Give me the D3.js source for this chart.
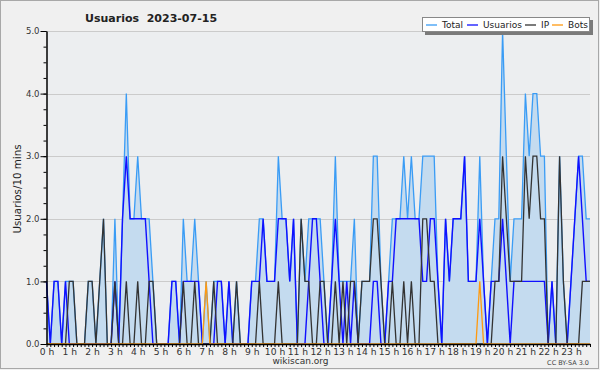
<!DOCTYPE html>
<html><head><meta charset="utf-8">
<script src="https://cdn.jsdelivr.net/npm/d3@7"></script>
<style>
html,body{margin:0;padding:0;background:#f0f0f0;}
svg{display:block;}
text{font-family:"DejaVu Sans",sans-serif;}
</style></head>
<body>
<svg id="c" width="600" height="370"></svg>
<script>
const title = "Usuarios  2023-07-15";
const yTitle = "Usuarios/10 mins";
const hourLabels = ["0 h","1 h","2 h","3 h","4 h","5 h","6 h","7 h","8 h","9 h","10 h","11 h","12 h","13 h","14 h","15 h","16 h","17 h","18 h","19 h","20 h","21 h","22 h","23 h"];
const yTickLabels = ["0.0","1.0","2.0","3.0","4.0","5.0"];
const seriesNames = ["Total","Usuarios","IP","Bots"];

const total = [
1,0,1,1,0,1,1,1,0,0,
0,1,1,0,1,2,0,0,2,0,
2,4,2,2,3,2,2,2,1,0,
0,0,0,1,1,0,2,1,1,2,
1,0,1,0,1,1,1,0,1,0,
1,0,0,0,1,1,2,2,1,1,
1,3,2,2,1,2,0,2,1,2,
2,2,2,1,0,1,3,1,1,1,
1,2,0,1,1,1,3,3,1,0,
1,2,2,2,3,2,3,2,2,3,
3,3,3,1,0,2,1,2,2,2,
3,1,1,1,3,1,0,1,2,2,
5,3,1,2,2,2,4,3,4,4,
3,3,0,1,0,3,1,0,1,2,
3,3,2,2];
const usuarios = [
1,0,1,1,0,1,0,0,0,0,
0,0,0,0,0,0,0,0,1,0,
2,3,2,2,2,2,2,1,0,0,
0,0,0,1,1,0,1,1,1,1,
1,0,0,0,0,1,1,0,1,0,
0,0,0,0,1,1,1,2,1,1,
1,2,2,2,1,2,0,0,0,1,
2,2,1,0,0,1,2,1,0,1,
0,1,0,0,0,0,1,1,0,0,
1,1,2,2,2,2,2,2,2,1,
1,2,2,1,0,2,1,2,2,2,
3,1,1,1,2,1,0,1,1,1,
2,1,0,1,1,1,1,1,1,1,
1,1,0,1,0,0,0,0,1,2,
3,2,1,1];
const ip = [
0,0,0,0,0,0,1,1,0,0,
0,1,1,0,1,2,0,0,1,0,
0,1,0,0,1,0,0,1,1,0,
0,0,0,0,0,0,1,0,0,1,
0,0,0,0,1,0,0,0,0,0,
1,0,0,0,0,0,1,0,0,0,
0,1,0,0,0,0,0,2,1,1,
0,0,1,1,0,0,1,0,1,0,
1,1,0,1,1,1,2,2,1,0,
0,1,0,0,1,0,1,0,0,2,
2,1,1,0,0,0,0,0,0,0,
0,0,0,0,0,0,0,0,1,1,
3,2,1,1,1,1,3,2,3,3,
2,2,0,0,0,3,1,0,0,0,
0,1,1,1];
const bots = [
0,0,0,0,0,0,0,0,0,0,
0,0,0,0,0,0,0,0,0,0,
0,0,0,0,0,0,0,0,0,0,
0,0,0,0,0,0,0,0,0,0,
0,0,1,0,0,0,0,0,0,0,
0,0,0,0,0,0,0,0,0,0,
0,0,0,0,0,0,0,0,0,0,
0,0,0,0,0,0,0,0,0,0,
0,0,0,0,0,0,0,0,0,0,
0,0,0,0,0,0,0,0,0,0,
0,0,0,0,0,0,0,0,0,0,
0,0,0,0,1,0,0,0,0,0,
0,0,0,0,0,0,0,0,0,0,
0,0,0,0,0,0,0,0,0,0,
0,0,0,0];

const colors = {Total:"#3a9cf5", Usuarios:"#1010ff", IP:"#333333", Bots:"#ff9a10"};
const fillTotal = "#c4dbef";

const svg = d3.select("#c");
const L = 46.5, R = 590, T = 31, B = 344;
const n = total.length;
const x = d3.scaleLinear().domain([0, n-1]).range([L, R]);
const y = d3.scaleLinear().domain([0, 5]).range([B, T]);

// outer border
svg.append("rect").attr("x",0.5).attr("y",0.5).attr("width",598).attr("height",368)
  .attr("fill","#f0f0f0").attr("stroke","#a8a8a8");

// plot background
svg.append("rect").attr("x",L).attr("y",T).attr("width",R-L).attr("height",B-T).attr("fill","#eceef0");

// grid
svg.append("g").selectAll("line").data([1,2,3,4,5]).join("line")
  .attr("x1",L).attr("x2",R)
  .attr("y1",d=>Math.round(y(d))+0.5).attr("y2",d=>Math.round(y(d))+0.5)
  .attr("stroke","#cbcbcb").attr("stroke-width",1);

// total area
const idx = d3.range(n);
svg.append("path").datum(idx)
  .attr("d", d3.area().x(i=>x(i)).y0(y(0)).y1(i=>y(total[i])))
  .attr("fill", fillTotal);

function drawLine(arr, color, w){
  svg.append("path").datum(idx)
    .attr("d", d3.line().x(i=>x(i)).y(i=>y(arr[i])))
    .attr("fill","none").attr("stroke",color).attr("stroke-width",w)
    .attr("stroke-linejoin","miter");
}
drawLine(total, colors.Total, 1.3);
drawLine(usuarios, colors.Usuarios, 1.4);
drawLine(ip, colors.IP, 1.3);
drawLine(bots, colors.Bots, 1.3);

// y axis minor
const yMinor = d3.axisLeft(y).tickValues(d3.range(0, 5.01, 0.25)).tickSize(3).tickFormat("").tickSizeOuter(0);
svg.append("g").attr("transform",`translate(${L},0)`).call(yMinor)
  .call(g=>g.select(".domain").remove())
  .call(g=>g.selectAll("line").attr("stroke","#000"));
// y axis major
const yMajor = d3.axisLeft(y).tickValues([0,1,2,3,4,5]).tickSize(6).tickPadding(1)
  .tickFormat((d,i)=>yTickLabels[i]).tickSizeOuter(0);
const gy = svg.append("g").attr("transform",`translate(${L},0)`).call(yMajor);
gy.select(".domain").attr("stroke","#000").attr("stroke-width",1.5);
gy.selectAll("line").attr("stroke","#000");
gy.selectAll("text").attr("font-family","Liberation Sans, sans-serif").attr("font-size",8.5).attr("fill","#333");

// x axis
const xAxis = d3.axisBottom(x).tickValues(idx).tickSize(3).tickPadding(1).tickSizeOuter(0)
  .tickFormat(i => i % 6 === 0 ? hourLabels[i/6] : "");
const gx = svg.append("g").attr("transform",`translate(0,${B})`).call(xAxis);
gx.select(".domain").attr("stroke","#000").attr("stroke-width",1.5);
gx.selectAll("line").attr("stroke","#000");
gx.selectAll("text").attr("font-family","Liberation Sans, sans-serif").attr("font-size",9.2).attr("fill","#333");

// title
svg.append("text").attr("x",85).attr("y",22).attr("font-weight","bold").attr("font-size",11)
  .attr("fill","#222").style("white-space","pre").text(title);

// y title
svg.append("text").attr("transform","translate(21,189) rotate(-90)").attr("text-anchor","middle")
  .attr("font-family","DejaVu Sans Mono, monospace").attr("font-size",10.3).attr("fill","#222").text(yTitle);

// legend
const lg = svg.append("g");
lg.append("rect").attr("x",425).attr("y",20).attr("width",168).attr("height",15).attr("fill","#7a7a7a");
lg.append("rect").attr("x",422.5).attr("y",17.5).attr("width",167).attr("height",14).attr("fill","#fff").attr("stroke","#888");
const lx = [426, 467, 525, 552];
seriesNames.forEach((s,i)=>{
  lg.append("line").attr("x1",lx[i]).attr("x2",lx[i]+11).attr("y1",25).attr("y2",25)
    .attr("stroke",colors[s]).attr("stroke-width",1.3);
  lg.append("text").attr("x",lx[i]+16).attr("y",28.3).attr("font-size",9).attr("fill","#222").text(s);
});

// footer
svg.append("text").attr("x",300.5).attr("y",364).attr("text-anchor","middle")
  .attr("font-family","Liberation Sans, sans-serif").attr("font-size",9).attr("fill","#333").text("wikiscan.org");
svg.append("text").attr("x",589).attr("y",365).attr("text-anchor","end")
  .attr("font-family","Liberation Sans, sans-serif").attr("font-size",6.5).attr("fill","#444").text("CC BY-SA 3.0");
</script>
</body></html>
